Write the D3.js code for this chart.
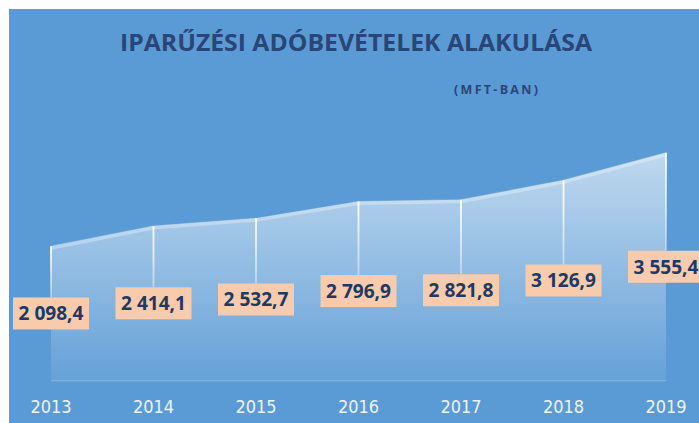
<!DOCTYPE html>
<html>
<head>
<meta charset="utf-8">
<script src="https://cdn.jsdelivr.net/npm/d3@7"></script>
<style>
body { margin: 0; background: #fff; }
svg { display: block; }
</style>
</head>
<body>
<svg width="699" height="423"></svg>
<script>
// data
var years = ["2013", "2014", "2015", "2016", "2017", "2018", "2019"];
var values = [2098.4, 2414.1, 2532.7, 2796.9, 2821.8, 3126.9, 3555.4];
var labels = ["2 098,4", "2 414,1", "2 532,7", "2 796,9", "2 821,8", "3 126,9", "3 555,4"];
var title = "IPARŰZÉSI ADÓBEVÉTELEK ALAKULÁSA";
var subtitle = "(MFT-BAN)";

var svg = d3.select("svg");
var bg = "#5b9bd5";

svg.append("rect").attr("x", 9).attr("y", 9).attr("width", 690).attr("height", 414).attr("fill", bg);

var x = d3.scalePoint().domain(years).range([51, 666]);
var y = d3.scaleLinear().domain([0, 4000]).range([380.7, 124.3]);

var defs = svg.append("defs");
var grad = defs.append("linearGradient").attr("id", "areaGrad")
  .attr("gradientUnits", "userSpaceOnUse")
  .attr("x1", 0).attr("x2", 0).attr("y1", y(3600)).attr("y2", y(0));
grad.append("stop").attr("offset", 0).attr("stop-color", "#fff").attr("stop-opacity", 0.62);
grad.append("stop").attr("offset", 1).attr("stop-color", "#fff").attr("stop-opacity", 0.06);

var area = d3.area()
  .x(function(d, i){ return x(years[i]); })
  .y0(y(0))
  .y1(function(d){ return y(d); });

svg.append("path").datum(values).attr("d", area).attr("fill", "url(#areaGrad)");

// faint baseline
svg.append("line").attr("x1", x(years[0])).attr("x2", x(years[6]))
  .attr("y1", y(0)).attr("y2", y(0))
  .attr("stroke", "#fff").attr("stroke-opacity", 0.18).attr("stroke-width", 1.5);

var line = d3.line()
  .x(function(d, i){ return x(years[i]); })
  .y(function(d){ return y(d); });

svg.append("path").datum(values).attr("d", line)
  .attr("fill", "none").attr("stroke", "#fff").attr("stroke-opacity", 0.3).attr("stroke-width", 4)
  .attr("transform", "translate(0,1.5)");

var boxW = 76, boxH = 32;

// drop lines from point to label, fading downwards
values.forEach(function(d, i){
  var g = defs.append("linearGradient").attr("id", "drop" + i)
    .attr("gradientUnits", "userSpaceOnUse")
    .attr("x1", 0).attr("x2", 0).attr("y1", y(d)).attr("y2", y(d / 2) - boxH / 2);
  g.append("stop").attr("offset", 0).attr("stop-color", "#fff").attr("stop-opacity", 1);
  g.append("stop").attr("offset", 1).attr("stop-color", "#fff").attr("stop-opacity", 0.4);
});

svg.append("g").selectAll("line").data(values).enter().append("line")
  .attr("x1", function(d, i){ return x(years[i]); })
  .attr("x2", function(d, i){ return x(years[i]) + 0.01; })
  .attr("y1", function(d){ return y(d); })
  .attr("y2", function(d){ return y(d / 2) - boxH / 2; })
  .attr("stroke", function(d, i){ return "url(#drop" + i + ")"; })
  .attr("stroke-width", 1.8);

var lab = svg.append("g").selectAll("g").data(values).enter().append("g")
  .attr("transform", function(d, i){ return "translate(" + x(years[i]) + "," + y(d / 2) + ")"; });

lab.append("rect")
  .attr("x", -boxW / 2).attr("y", -boxH / 2)
  .attr("width", boxW).attr("height", boxH)
  .attr("fill", "#f8cbad");

lab.append("text")
  .attr("text-anchor", "middle").attr("dy", "0.36em")
  .attr("textLength", 65).attr("lengthAdjust", "spacingAndGlyphs")
  .style("font-family", "'Open Sans', 'DejaVu Sans', sans-serif")
  .style("font-weight", "bold").style("font-size", "19px")
  .attr("fill", "#203864")
  .text(function(d, i){ return labels[i]; });

// year axis
svg.append("g").selectAll("text").data(years).enter().append("text")
  .attr("x", function(d){ return x(d); })
  .attr("y", 407).attr("dy", "0.36em")
  .attr("text-anchor", "middle")
  .style("font-family", "'Liberation Sans Narrow', 'DejaVu Sans Condensed', sans-serif")
  .style("font-size", "18px")
  .attr("fill", "#eef3fa")
  .text(function(d){ return d; });

svg.append("text")
  .attr("x", 356).attr("y", 42).attr("dy", "0.36em")
  .attr("text-anchor", "middle")
  .attr("textLength", 472).attr("lengthAdjust", "spacingAndGlyphs")
  .style("font-family", "'Open Sans', sans-serif")
  .style("font-weight", "bold").style("font-size", "24px")
  .attr("fill", "#2a4677")
  .text(title);

svg.append("text")
  .attr("x", 496).attr("y", 89).attr("dy", "0.36em")
  .attr("text-anchor", "middle")
  .attr("textLength", 84).attr("lengthAdjust", "spacing")
  .style("font-family", "'Open Sans', sans-serif")
  .style("font-weight", "bold").style("font-size", "12.5px")
  .attr("fill", "#2a4677")
  .text(subtitle);
</script>
</body>
</html>
